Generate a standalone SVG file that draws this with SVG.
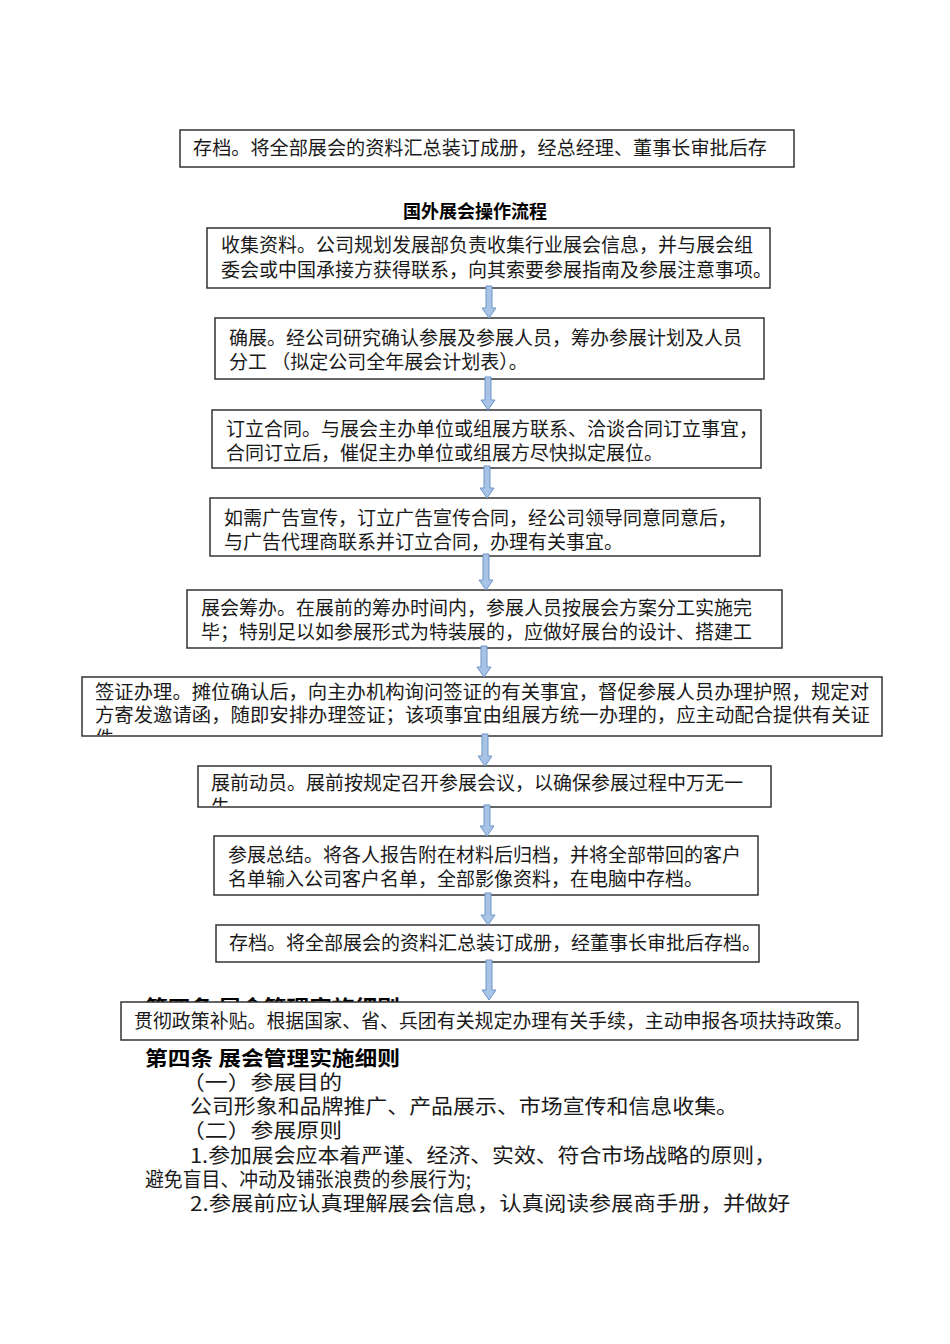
<svg xmlns="http://www.w3.org/2000/svg" width="950" height="1344" viewBox="0 0 950 1344">
<style>
.box{fill:#ffffff;stroke:#333333;stroke-width:1.5}
.t{font-family:"Noto Sans CJK SC","Noto Sans CJK JP",sans-serif;font-size:19px;fill:#1a1a1a}
.title{font-family:"Noto Sans CJK SC",sans-serif;font-size:18px;font-weight:bold;fill:#000}
.h{font-family:"Noto Sans CJK SC",sans-serif;font-size:20px;font-weight:bold;fill:#000}
.b{font-family:"Noto Sans CJK SC",sans-serif;font-size:20px;fill:#1a1a1a}
.arr{fill:#a7c3e6;stroke:#6f95c8;stroke-width:1}
</style>
<defs>
<clipPath id="c6"><rect x="82" y="677" width="800" height="58"/></clipPath>
<clipPath id="c7"><rect x="198" y="766" width="573" height="40"/></clipPath>
<clipPath id="c5"><rect x="187" y="590" width="595" height="58"/></clipPath>
<clipPath id="cg"><rect x="121" y="990" width="300" height="12"/></clipPath>
</defs>
<rect width="950" height="1344" fill="#ffffff"/>

<g clip-path="url(#cg)">
<text class="h" x="145" y="1015" textLength="255" lengthAdjust="spacingAndGlyphs">第四条  展会管理实施细则</text>
</g>

<g id="n0">
<rect class="box" x="180" y="130" width="614" height="37"/>
<text class="t" x="193" y="155" textLength="574" lengthAdjust="spacingAndGlyphs">存档。将全部展会的资料汇总装订成册，经总经理、董事长审批后存</text>
</g>

<g id="title"><text class="title" x="475" y="218" text-anchor="middle">国外展会操作流程</text></g>

<g id="n1">
<rect class="box" x="207" y="228" width="563" height="60"/>
<text class="t" x="221" y="252">收集资料。公司规划发展部负责收集行业展会信息，并与展会组</text>
<text class="t" x="221" y="277">委会或中国承接方获得联系，向其索要参展指南及参展注意事项。</text>
</g>
<g id="n2">
<rect class="box" x="215" y="318" width="549" height="61"/>
<text class="t" x="229" y="345">确展。经公司研究确认参展及参展人员，筹办参展计划及人员</text>
<text class="t" x="229" y="369">分工 （拟定公司全年展会计划表）。</text>
</g>
<g id="n3">
<rect class="box" x="212" y="410" width="549" height="58"/>
<text class="t" x="226" y="436">订立合同。与展会主办单位或组展方联系、洽谈合同订立事宜，</text>
<text class="t" x="226" y="460">合同订立后，催促主办单位或组展方尽快拟定展位。</text>
</g>
<g id="n4">
<rect class="box" x="210" y="498" width="550" height="58"/>
<text class="t" x="224" y="525">如需广告宣传，订立广告宣传合同，经公司领导同意同意后，</text>
<text class="t" x="224" y="549">与广告代理商联系并订立合同，办理有关事宜。</text>
</g>
<g id="n5">
<rect class="box" x="187" y="590" width="595" height="58"/>
<g clip-path="url(#c5)">
<text class="t" x="201" y="615">展会筹办。在展前的筹办时间内，参展人员按展会方案分工实施完</text>
<text class="t" x="201" y="639">毕；特别足以如参展形式为特装展的，应做好展台的设计、搭建工</text>
</g>
</g>
<g id="n6">
<rect class="box" x="82" y="677" width="800" height="59"/>
<g clip-path="url(#c6)">
<text class="t" x="95" y="699" textLength="774" lengthAdjust="spacingAndGlyphs">签证办理。摊位确认后，向主办机构询问签证的有关事宜，督促参展人员办理护照，规定对</text>
<text class="t" x="95" y="722" textLength="775" lengthAdjust="spacingAndGlyphs">方寄发邀请函，随即安排办理签证；该项事宜由组展方统一办理的，应主动配合提供有关证</text>
<text class="t" x="95" y="745">件</text>
</g>
</g>
<g id="n7">
<rect class="box" x="198" y="766" width="573" height="41"/>
<g clip-path="url(#c7)">
<text class="t" x="211" y="790">展前动员。展前按规定召开参展会议，以确保参展过程中万无一</text>
<text class="t" x="211" y="814">失</text>
</g>
</g>
<g id="n8">
<rect class="box" x="214" y="836" width="544" height="59"/>
<text class="t" x="228" y="862">参展总结。将各人报告附在材料后归档，并将全部带回的客户</text>
<text class="t" x="228" y="886">名单输入公司客户名单，全部影像资料，在电脑中存档。</text>
</g>
<g id="n9">
<rect class="box" x="216" y="925" width="543" height="37"/>
<text class="t" x="229" y="950">存档。将全部展会的资料汇总装订成册，经董事长审批后存档。</text>
</g>
<g id="n10">
<rect class="box" x="121" y="1002" width="737" height="38"/>
<text class="t" x="134" y="1028" textLength="719" lengthAdjust="spacingAndGlyphs">贯彻政策补贴。根据国家、省、兵团有关规定办理有关手续，主动申报各项扶持政策。</text>
</g>

<g id="connectors">
<path class="arr" d="M486,286 L492,286 L492,308 L496,308 L489,318 L482,308 L486,308 Z"/>
<path class="arr" d="M485,377 L491,377 L491,400 L495,400 L488,410 L481,400 L485,400 Z"/>
<path class="arr" d="M484,466 L490,466 L490,488 L494,488 L487,498 L480,488 L484,488 Z"/>
<path class="arr" d="M483,554 L489,554 L489,580 L493,580 L486,590 L479,580 L483,580 Z"/>
<path class="arr" d="M481,646 L487,646 L487,667 L491,667 L484,677 L477,667 L481,667 Z"/>
<path class="arr" d="M482,734 L488,734 L488,756 L492,756 L485,766 L478,756 L482,756 Z"/>
<path class="arr" d="M484,805 L490,805 L490,826 L494,826 L487,836 L480,826 L484,826 Z"/>
<path class="arr" d="M485,893 L491,893 L491,915 L495,915 L488,925 L481,915 L485,915 Z"/>
<path class="arr" d="M486,960 L492,960 L492,990 L496,990 L489,1000 L482,990 L486,990 Z"/>
</g>

<g id="body">
<text class="h" x="145" y="1066" textLength="255" lengthAdjust="spacingAndGlyphs">第四条  展会管理实施细则</text>
<text class="b" x="182" y="1090" textLength="160" lengthAdjust="spacingAndGlyphs">（一）参展目的</text>
<text class="b" x="190" y="1114" textLength="548" lengthAdjust="spacingAndGlyphs">公司形象和品牌推广、产品展示、市场宣传和信息收集。</text>
<text class="b" x="182" y="1138" textLength="160" lengthAdjust="spacingAndGlyphs">（二）参展原则</text>
<text class="b" x="190" y="1163" textLength="586" lengthAdjust="spacingAndGlyphs">1.参加展会应本着严谨、经济、实效、符合市场战略的原则，</text>
<text class="b" x="145" y="1187" textLength="326" lengthAdjust="spacingAndGlyphs">避免盲目、冲动及铺张浪费的参展行为;</text>
<text class="b" x="190" y="1211" textLength="600" lengthAdjust="spacingAndGlyphs">2.参展前应认真理解展会信息，认真阅读参展商手册，并做好</text>
</g>
</svg>
